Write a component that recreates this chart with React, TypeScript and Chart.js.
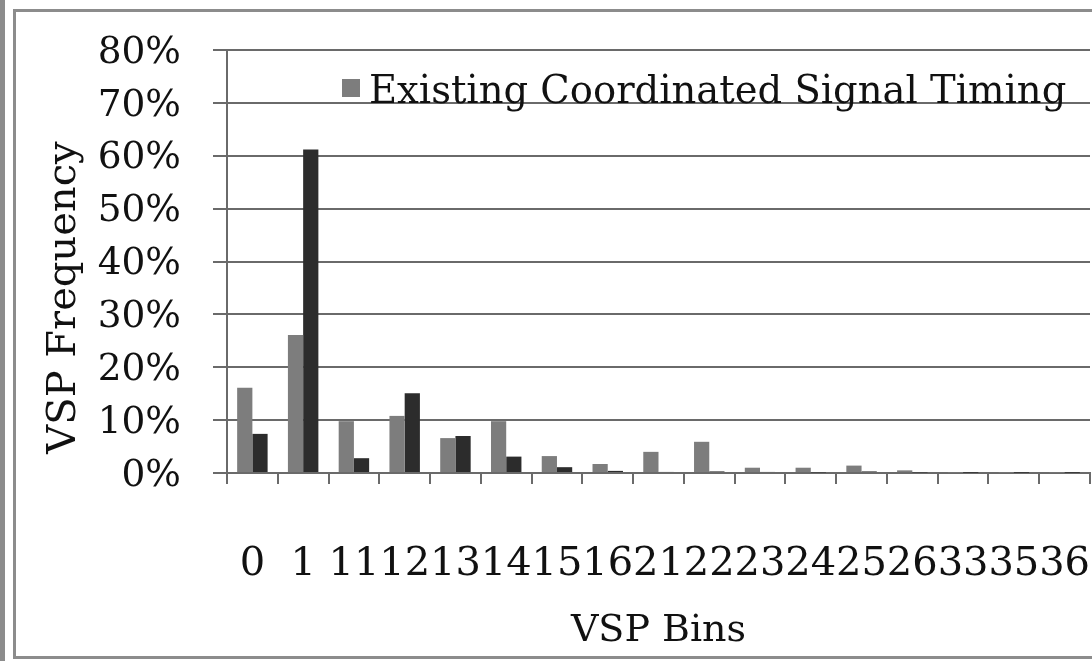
import React, { useEffect, useRef } from "react";
import { Chart, registerables } from "chart.js";

Chart.register(...registerables);

const categories = ["0", "1", "11", "12", "13", "14", "15", "16", "21", "22", "23", "24", "25", "26", "33", "35", "36"];
const existingTiming = [16.1, 26.1, 9.8, 10.8, 6.6, 9.8, 3.2, 1.7, 4.0, 5.9, 1.0, 1.0, 1.4, 0.5, 0.1, 0.1, 0.1];
const secondTiming = [7.4, 61.2, 2.8, 15.1, 7.0, 3.1, 1.1, 0.4, 0.2, 0.3, 0.2, 0.1, 0.3, 0.1, 0.05, 0.05, 0.05];
const seriesLabels = ["Existing Coordinated Signal Timing", "Optimized Signal Timing"];
const yTicks = [0, 10, 20, 30, 40, 50, 60, 70, 80];
const xTitle = "VSP Bins";
const yTitle = "VSP Frequency";

const FONT = '"DejaVu Serif", serif';
const GRID = "#6a6a6a";
const LIGHT = "#7d7d7d";
const DARK = "#2c2c2c";

const overlayPlugin = {
  id: "overlay",
  afterDraw(chart: any) {
    const ctx = chart.ctx;
    const area = chart.chartArea;
    // y-axis title
    ctx.save();
    ctx.font = `40px ${FONT}`;
    ctx.fillStyle = "#111";
    ctx.textAlign = "center";
    ctx.textBaseline = "middle";
    ctx.translate(65, (area.top + area.bottom) / 2 + 36);
    ctx.rotate(-Math.PI / 2);
    ctx.fillText(yTitle, 0, 0);
    ctx.restore();
    // legend (only first entry is visible in the reference)
    ctx.save();
    const ds = chart.data.datasets[0];
    ctx.fillStyle = ds.backgroundColor;
    ctx.fillRect(342, 79, 18, 18);
    ctx.font = `38.5px ${FONT}`;
    ctx.fillStyle = "#111";
    ctx.textAlign = "left";
    ctx.textBaseline = "middle";
    ctx.fillText(ds.label, 369, 93);
    ctx.restore();
  },
};

export default function App() {
  const ref = useRef<HTMLCanvasElement | null>(null);

  useEffect(() => {
    if (!ref.current) return;
    const chart = new Chart(ref.current, {
      type: "bar",
      data: {
        labels: categories,
        datasets: [
          {
            label: seriesLabels[0],
            data: existingTiming,
            backgroundColor: LIGHT,
            categoryPercentage: 0.6,
            barPercentage: 1.0,
          },
          {
            label: seriesLabels[1],
            data: secondTiming,
            backgroundColor: DARK,
            categoryPercentage: 0.6,
            barPercentage: 1.0,
          },
        ],
      },
      options: {
        responsive: false,
        animation: false,
        layout: { padding: { left: 0, right: 2, top: 50, bottom: 0 } },
        plugins: {
          legend: { display: false },
          tooltip: { enabled: false },
        },
        scales: {
          x: {
            grid: {
              drawOnChartArea: false,
              drawTicks: true,
              tickLength: 11,
              color: GRID,
              lineWidth: 2,
            },
            border: { display: true, color: GRID, width: 2 },
            ticks: {
              autoSkip: false,
              maxRotation: 0,
              minRotation: 0,
              padding: 57,
              color: "#111",
              font: { family: FONT, size: 40 },
            },
            title: {
              display: true,
              text: xTitle,
              color: "#111",
              font: { family: FONT, size: 38 },
              padding: { top: 0, bottom: 7 },
            },
            afterFit: (scale: any) => {
              scale.height = 188;
              scale.paddingLeft = 0;
              scale.paddingRight = 0;
            },
          },
          y: {
            min: 0,
            max: 80,
            afterBuildTicks: (scale: any) => {
              scale.ticks = yTicks.map((v) => ({ value: v }));
            },
            grid: {
              drawTicks: true,
              tickLength: 14,
              color: GRID,
              lineWidth: 2,
            },
            border: { display: true, color: GRID, width: 2 },
            ticks: {
              padding: 32,
              labelOffset: 3,
              color: "#111",
              font: { family: FONT, size: 37.5 },
              callback: (v: any) => `${v}%`,
            },
            afterFit: (scale: any) => {
              scale.width = 227;
              scale.paddingTop = 0;
              scale.paddingBottom = 0;
            },
          },
        },
      },
      plugins: [overlayPlugin],
    });
    return () => chart.destroy();
  }, []);

  return (
    <div style={{ position: "absolute", left: 0, top: 0, width: 1092, height: 661, background: "#fff", overflow: "hidden" }}>
      <canvas ref={ref} width={1092} height={661} style={{ display: "block" }} />
      <div style={{ position: "absolute", left: 0, top: 0, width: 5, height: 661, background: "#8c8c8c" }} />
      <div style={{ position: "absolute", left: 13, top: 9, width: 3, height: 650, background: "#8c8c8c" }} />
      <div style={{ position: "absolute", left: 13, top: 9, width: 1079, height: 3, background: "#8c8c8c" }} />
      <div style={{ position: "absolute", left: 13, top: 656, width: 1079, height: 3, background: "#8c8c8c" }} />
    </div>
  );
}
